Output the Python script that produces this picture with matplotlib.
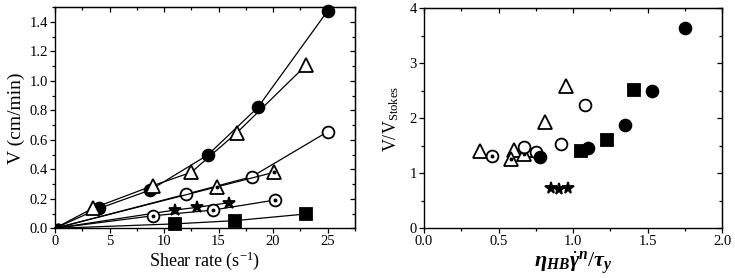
import numpy as np
import matplotlib
matplotlib.use("Agg")
import matplotlib.pyplot as plt
from matplotlib.ticker import MultipleLocator, FormatStrFormatter

plt.rcParams['font.family'] = ['Liberation Serif', 'DejaVu Serif']
plt.rcParams['mathtext.fontset'] = 'custom'
plt.rcParams['mathtext.rm'] = 'Liberation Serif'
plt.rcParams['mathtext.it'] = 'Liberation Serif:italic:bold'
plt.rcParams['mathtext.bf'] = 'Liberation Serif:bold'

# left panel: V vs shear rate, each series starts at the origin
sr_fcirc = [0, 4.05, 8.75, 14.0, 18.6, 25.0]
v_fcirc = [0, 0.135, 0.26, 0.497, 0.82, 1.475]
sr_otri = [0, 3.45, 9.0, 12.5, 16.7, 23.0]
v_otri = [0, 0.135, 0.29, 0.38, 0.65, 1.105]
sr_ocirc = [0, 12.05, 18.05, 25.0]
v_ocirc = [0, 0.232, 0.35, 0.655]
sr_dtri = [0, 14.9, 20.1]
v_dtri = [0, 0.282, 0.38]
sr_star = [0, 11.0, 13.0, 16.0]
v_star = [0, 0.124, 0.142, 0.174]
sr_dcirc = [0, 9.0, 14.5, 20.2]
v_dcirc = [0, 0.085, 0.124, 0.192]
sr_sq = [0, 11.0, 16.5, 23.0]
v_sq = [0, 0.03, 0.052, 0.097]

# right panel: V/V_Stokes vs eta_HB*gammadot^n/tau_y
r_fcirc_x = [0.78, 1.10, 1.35, 1.53, 1.75]
r_fcirc_y = [1.30, 1.46, 1.88, 2.50, 3.65]
r_sq_x = [1.05, 1.23, 1.41]
r_sq_y = [1.41, 1.60, 2.52]
r_otri_x = [0.375, 0.60, 0.70, 0.81, 0.952]
r_otri_y = [1.41, 1.42, 1.43, 1.93, 2.58]
r_dtri_x = [0.58, 0.67]
r_dtri_y = [1.26, 1.35]
r_ocirc_x = [0.67, 0.75, 0.92, 1.08]
r_ocirc_y = [1.48, 1.38, 1.53, 2.25]
r_dcirc_x = [0.453]
r_dcirc_y = [1.31]
r_star_x = [0.85, 0.905, 0.965]
r_star_y = [0.74, 0.72, 0.74]

fig = plt.figure(figsize=(7.35, 2.78), dpi=100)
ax1 = fig.add_axes([0.0748, 0.1788, 0.408, 0.795])
ax2 = fig.add_axes([0.5769, 0.1788, 0.4059, 0.791])

ms = 8.5
mew = 1.3
lw = 0.9


def series(ax, x, y, marker, filled, dot=False, size=ms, line=True, skip0=True):
    fc = 'black' if filled else 'white'
    every = slice(1, None) if skip0 else None
    ax.plot(x, y, color='black', lw=lw if line else 0, marker=marker,
            markersize=size, mfc=fc, mec='black', mew=mew, markevery=every,
            clip_on=False, zorder=3)
    if dot:
        ax.plot(x[1:] if skip0 else x, y[1:] if skip0 else y, ls='none',
                marker='o', markersize=1.8, color='black', clip_on=False, zorder=4)


series(ax1, sr_fcirc, v_fcirc, 'o', True)
series(ax1, sr_otri, v_otri, '^', False, size=9.5)
series(ax1, sr_ocirc, v_ocirc, 'o', False)
series(ax1, sr_dtri, v_dtri, '^', False, dot=True, size=9.5)
series(ax1, sr_star, v_star, '*', True, size=9)
series(ax1, sr_dcirc, v_dcirc, 'o', False, dot=True)
series(ax1, sr_sq, v_sq, 's', True, size=8)
ax1.plot([0.3], [0.012], marker='o', ms=5, color='black', zorder=5)

series(ax2, r_otri_x, r_otri_y, '^', False, size=9.5, line=False, skip0=False)
series(ax2, r_dcirc_x, r_dcirc_y, 'o', False, dot=True, line=False, skip0=False)
series(ax2, r_dtri_x, r_dtri_y, '^', False, dot=True, size=9.5, line=False, skip0=False)
series(ax2, r_ocirc_x, r_ocirc_y, 'o', False, line=False, skip0=False)
series(ax2, r_fcirc_x, r_fcirc_y, 'o', True, line=False, skip0=False)
series(ax2, r_sq_x, r_sq_y, 's', True, size=8, line=False, skip0=False)
series(ax2, r_star_x, r_star_y, '*', True, size=8.5, line=False, skip0=False)

ax1.set_xlim(0, 27.5)
ax1.set_ylim(0, 1.5)
ax1.xaxis.set_major_locator(MultipleLocator(5))
ax1.xaxis.set_minor_locator(MultipleLocator(2.5))
ax1.yaxis.set_major_locator(MultipleLocator(0.2))
ax1.yaxis.set_minor_locator(MultipleLocator(0.1))
ax1.yaxis.set_major_formatter(FormatStrFormatter('%.1f'))
ax1.set_xlabel('Shear rate (s$^{-1}$)', fontsize=13, labelpad=1)
ax1.set_ylabel('V (cm/min)', fontsize=14, labelpad=3)

ax2.set_xlim(0, 2.0)
ax2.set_ylim(0, 4)
ax2.xaxis.set_major_locator(MultipleLocator(0.5))
ax2.xaxis.set_minor_locator(MultipleLocator(0.25))
ax2.xaxis.set_major_formatter(FormatStrFormatter('%.1f'))
ax2.yaxis.set_major_locator(MultipleLocator(1))
ax2.yaxis.set_minor_locator(MultipleLocator(0.5))
ax2.set_xlabel(r'$\eta_{HB}\dot{\gamma}^{n}/\tau_{y}$', fontsize=16, labelpad=1)
ax2.set_ylabel(r'V/V$_{\mathrm{Stokes}}$', fontsize=13, labelpad=6)

for ax in (ax1, ax2):
    for s in ax.spines.values():
        s.set_linewidth(1.0)
    ax.tick_params(which='both', direction='out', labelsize=10.5, width=0.9, pad=1.5)
    ax.tick_params(which='major', length=3.5)
    ax.tick_params(which='minor', length=2)
    top = ax.secondary_xaxis('top')
    top.set_xticks(ax.get_xticks())
    top.xaxis.set_minor_locator(ax.xaxis.get_minor_locator())
    top.tick_params(which='both', direction='in', labeltop=False, width=0.9)
    top.tick_params(which='major', length=3.5)
    top.tick_params(which='minor', length=2)
    right = ax.secondary_yaxis('right')
    right.set_yticks(ax.get_yticks())
    right.yaxis.set_minor_locator(ax.yaxis.get_minor_locator())
    right.tick_params(which='both', direction='in', labelright=False, width=0.9)
    right.tick_params(which='major', length=3.5)
    right.tick_params(which='minor', length=2)

fig.savefig('out.png', dpi=100)
